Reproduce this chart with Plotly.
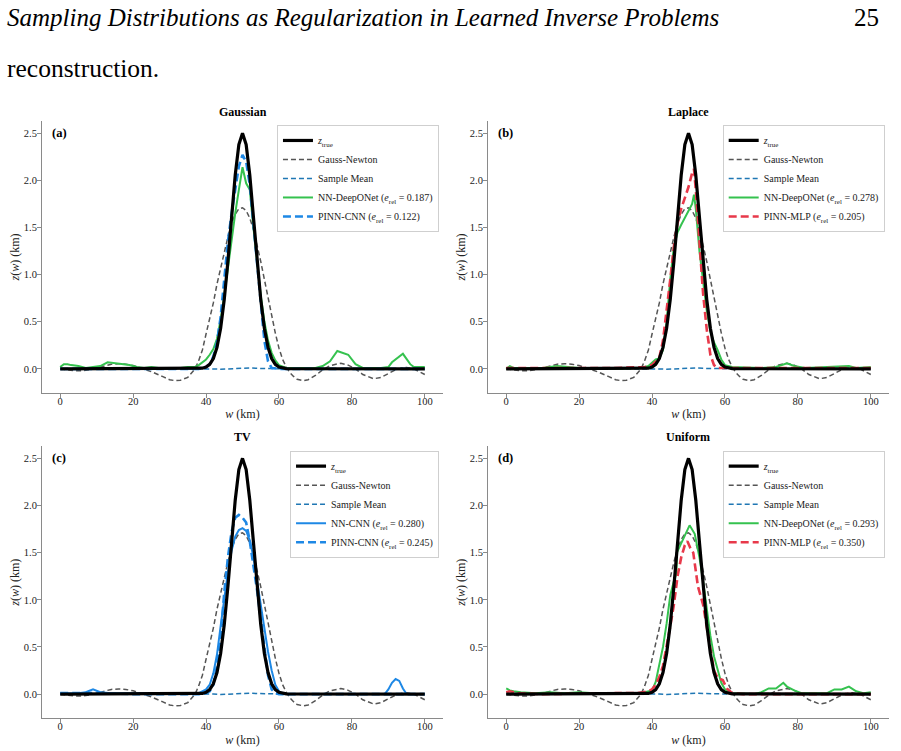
import plotly.graph_objects as go

# ---------------- data ----------------
W_TRUE = [0, 38, 39, 40, 41, 42, 43, 44, 45, 46, 47, 48, 49, 50, 51, 52, 53, 54, 55, 56, 57, 58, 59, 60, 61, 62, 100]
Z_TRUE = [0.0, 0.002, 0.007, 0.019, 0.048, 0.110, 0.228, 0.431, 0.738, 1.144, 1.611, 2.056, 2.381, 2.5,
          2.381, 2.056, 1.611, 1.144, 0.738, 0.431, 0.228, 0.110, 0.048, 0.019, 0.007, 0.002, 0.0]

W_GN = [0, 2, 4, 6, 8, 10, 12, 14, 16, 18, 20, 22, 25, 28, 30, 31.5, 33, 35, 36, 37, 38, 39, 40, 41, 42, 43, 44,
        45, 46, 47, 48, 49, 50, 51, 52, 53, 54, 55, 56, 57, 58, 59, 60, 61, 62, 63, 64, 65, 66.7, 68, 70, 72, 74,
        77, 79, 81, 83, 86, 88, 90, 92, 94, 95, 97, 99, 100]
Z_GN = [0.0, -0.01, -0.02, -0.02, -0.01, 0.01, 0.03, 0.05, 0.055, 0.05, 0.035, 0.01, -0.03, -0.08, -0.115, -0.125,
        -0.12, -0.09, -0.05, 0.0, 0.09, 0.2, 0.37, 0.52, 0.7, 0.9, 1.07, 1.25, 1.4, 1.54, 1.64, 1.7, 1.71, 1.68,
        1.6, 1.48, 1.32, 1.14, 0.95, 0.75, 0.56, 0.38, 0.22, 0.1, 0.02, -0.04, -0.08, -0.11, -0.125, -0.115, -0.07,
        -0.01, 0.035, 0.06, 0.04, 0.0, -0.06, -0.105, -0.09, -0.05, -0.01, 0.01, 0.015, 0.0, -0.04, -0.06]

W_SM = [0, 10, 20, 30, 38, 40, 42, 44, 46, 48, 50, 52, 54, 56, 58, 60, 62, 70, 80, 90, 100]
Z_SM = [0.0, 0.0, 0.0, 0.0, 0.0, 0.005, 0.0, -0.004, 0.0, 0.005, 0.008, 0.01, 0.006, 0.004, 0.002, 0.0, 0.0,
        0.0, 0.0, 0.0, 0.0]

# (a) Gaussian
W_A_NN = [0, 1, 2, 3, 5, 7, 9, 11, 13, 15, 17, 19, 21, 23, 25, 27, 30, 33, 35, 37, 38, 40, 41, 42, 43, 44, 45, 46,
          47, 48, 49, 50, 51, 52, 53, 54, 55, 56, 57, 58, 59, 60, 62, 65, 70, 72, 74, 76, 78, 79, 81, 83, 88, 90,
          91, 94, 96, 97, 100]
Z_A_NN = [0.02, 0.05, 0.05, 0.04, 0.03, 0.01, 0.02, 0.03, 0.07, 0.06, 0.05, 0.04, 0.02, 0.01, 0.02, 0.01, 0.01,
          0.01, 0.02, 0.02, 0.04, 0.1, 0.15, 0.21, 0.32, 0.52, 0.78, 1.08, 1.38, 1.65, 1.9, 2.14, 1.97, 1.9, 1.5,
          1.1, 0.78, 0.5, 0.3, 0.17, 0.09, 0.04, 0.01, 0.01, 0.01, 0.03, 0.08, 0.19, 0.16, 0.15, 0.05, 0.01, 0.01,
          0.02, 0.07, 0.16, 0.05, 0.02, 0.02]
W_A_PINN = [0, 10, 20, 30, 38, 40, 41, 42, 43, 44, 45, 46, 47, 48, 49, 50, 51, 52, 53, 54, 55, 56, 57, 58, 60, 70,
            80, 90, 100]
Z_A_PINN = [0.0, 0.0, 0.0, 0.0, 0.0, 0.02, 0.05, 0.13, 0.28, 0.55, 0.95, 1.35, 1.65, 1.88, 2.15, 2.27, 2.2, 1.95,
            1.55, 1.1, 0.68, 0.3, 0.08, 0.01, 0.0, 0.0, 0.0, 0.0, 0.0]

# (b) Laplace
W_B_NN = [0, 1, 2, 5, 10, 14, 17, 20, 30, 37, 39, 40, 41, 42, 43, 44, 45, 46, 47, 48, 49, 50, 51, 51.5, 52, 53, 54,
          55, 56, 57, 58, 59, 60, 62, 70, 74, 77, 79, 82, 90, 94, 96, 100]
Z_B_NN = [0.0, 0.03, 0.01, 0.01, 0.01, 0.03, 0.02, 0.01, 0.0, 0.01, 0.03, 0.07, 0.1, 0.11, 0.2, 0.5, 0.95, 1.3,
          1.45, 1.53, 1.6, 1.67, 1.75, 1.85, 1.7, 1.25, 0.9, 0.62, 0.4, 0.28, 0.2, 0.1, 0.04, 0.02, 0.01, 0.02,
          0.06, 0.03, 0.01, 0.02, 0.03, 0.01, 0.02]
W_B_PINN = [0, 10, 20, 30, 38, 40, 41, 42, 43, 44, 45, 46, 47, 48, 49, 50, 51, 51.5, 52, 53, 54, 55, 56, 57, 58, 60,
            70, 80, 90, 100]
Z_B_PINN = [0.01, 0.01, 0.01, 0.01, 0.02, 0.04, 0.08, 0.12, 0.3, 0.6, 0.95, 1.3, 1.55, 1.7, 1.82, 1.93, 2.08, 2.12,
            1.9, 1.3, 0.8, 0.42, 0.15, 0.04, 0.01, 0.01, 0.01, 0.01, 0.01, 0.01]

# (c) TV
W_C_NN = [0, 5, 7, 9, 11, 14, 20, 30, 37, 38, 40, 41, 42, 43, 44, 45, 46, 47, 48, 49, 50, 51, 52, 53, 54, 55, 56, 57,
          58, 59, 60, 61, 62, 80, 89, 90, 91, 92, 93, 94, 95, 100]
Z_C_NN = [0.01, 0.01, 0.02, 0.05, 0.02, 0.01, 0.01, 0.01, 0.01, 0.01, 0.05, 0.1, 0.22, 0.42, 0.72, 1.02, 1.3, 1.52,
          1.67, 1.74, 1.76, 1.73, 1.63, 1.45, 1.2, 0.95, 0.68, 0.45, 0.25, 0.1, 0.03, 0.0, 0.0, 0.0, 0.0, 0.05,
          0.12, 0.16, 0.14, 0.06, 0.0, 0.0]
W_C_PINN = [0, 10, 20, 30, 38, 40, 41, 42, 43, 44, 45, 46, 47, 48, 49, 50, 51, 52, 53, 54, 55, 56, 57, 58, 59, 60,
            70, 80, 90, 100]
Z_C_PINN = [0.01, 0.01, 0.0, 0.0, 0.0, 0.01, 0.03, 0.1, 0.3, 0.6, 1.08, 1.45, 1.72, 1.87, 1.9, 1.87, 1.82, 1.62,
            1.38, 1.1, 0.8, 0.5, 0.2, 0.05, 0.01, 0.0, 0.0, 0.0, 0.0, 0.0]

# (d) Uniform
W_D_NN = [0, 1, 2, 4, 8, 12, 16, 20, 24, 30, 36, 38, 40, 41, 42, 43, 44, 45, 46, 46.7, 46.8, 48, 49, 50.3, 51.7, 53,
          54, 55, 56, 57, 58, 59, 60, 62, 68, 70, 72, 74, 76, 77, 79, 81, 88, 90, 92, 94, 96, 98, 100]
Z_D_NN = [0.06, 0.04, 0.03, 0.02, 0.01, 0.02, 0.01, 0.02, 0.01, 0.01, 0.01, 0.02, 0.04, 0.13, 0.3, 0.5, 0.75, 1.05,
          1.2, 1.28, 1.5, 1.6, 1.7, 1.79, 1.7, 1.45, 1.2, 0.9, 0.62, 0.4, 0.25, 0.12, 0.05, 0.01, 0.0, 0.02, 0.06,
          0.06, 0.12, 0.08, 0.04, 0.01, 0.01, 0.05, 0.05, 0.08, 0.03, 0.01, 0.02]
W_D_PINN = [0, 1, 3, 10, 30, 36, 39, 40, 41, 42, 43, 44, 45, 46, 47, 48, 49, 49.7, 50.5, 51.3, 52, 52.6, 54, 55, 56,
            57, 58, 59.4, 60.5, 62, 65, 100]
Z_D_PINN = [0.02, 0.03, 0.01, 0.0, 0.01, 0.01, 0.03, 0.05, 0.1, 0.18, 0.3, 0.5, 0.72, 0.95, 1.25, 1.45, 1.58, 1.62,
            1.55, 1.5, 1.3, 1.14, 0.95, 0.7, 0.45, 0.25, 0.17, 0.15, 0.06, 0.01, 0.0, 0.0]

PANEL_TITLES = ["Gaussian", "Laplace", "TV", "Uniform"]
PANEL_TAGS = ["(a)", "(b)", "(c)", "(d)"]
NET_NAMES = [("NN-DeepONet", "0.187", "PINN-CNN", "0.122"),
             ("NN-DeepONet", "0.278", "PINN-MLP", "0.205"),
             ("NN-CNN", "0.280", "PINN-CNN", "0.245"),
             ("NN-DeepONet", "0.293", "PINN-MLP", "0.350")]
NET_DATA = [(W_A_NN, Z_A_NN, W_A_PINN, Z_A_PINN),
            (W_B_NN, Z_B_NN, W_B_PINN, Z_B_PINN),
            (W_C_NN, Z_C_NN, W_C_PINN, Z_C_PINN),
            (W_D_NN, Z_D_NN, W_D_PINN, Z_D_PINN)]
X_TICKS = [0, 20, 40, 60, 80, 100]
Y_TICKS = [0.0, 0.5, 1.0, 1.5, 2.0, 2.5]

# ---------------- styling ----------------
FONT = "'Times New Roman', 'Liberation Serif', 'DejaVu Serif', serif"
GREEN = "#35c24f"
BLUE = "#1e88e5"
RED = "#e8394a"
SM_BLUE = "#1f77b4"
GRAY = "#555555"
NN_STYLE = [dict(color=GREEN, width=2), dict(color=GREEN, width=2),
            dict(color=BLUE, width=2), dict(color=GREEN, width=2)]
PINN_STYLE = [dict(color=BLUE, width=2.6, dash="8px,4px"), dict(color=RED, width=2.6, dash="8px,4px"),
              dict(color=BLUE, width=2.6, dash="8px,4px"), dict(color=RED, width=2.6, dash="8px,4px")]

X_DOMAINS = [[0.0466, 0.4917], [0.5416, 0.9867]]
Y_DOMAINS = [[0.4767, 0.8389], [0.0436, 0.4061]]
LEGEND_POS = [(0.3074, 0.8336), (0.8021, 0.8336), (0.3219, 0.3999), (0.8021, 0.3999)]


def it(s, size=10):
    return f"<span style='font-style:italic;font-size:{size}px'>{s}</span>"


def sub(s, size=7):
    # lowered small text without plotly's <sub> (which adds zero-width reset spans)
    return f"<span style='font-size:{size}px;baseline-shift:-2.5px'>{s}</span>"


def plain(s, size=10):
    return f"<span style='font-size:{size}px'>{s}</span>"


fig = go.Figure()
layout = dict(
    width=901, height=751, margin=dict(l=0, r=0, t=0, b=0),
    paper_bgcolor="white", plot_bgcolor="white",
    font=dict(family=FONT, size=11, color="#222222"),
    annotations=[],
)

for i in range(4):
    r, c = divmod(i, 2)
    sfx = "" if i == 0 else str(i + 1)
    xa, ya = "x" + sfx, "y" + sfx
    leg = "legend" if i == 0 else "legend" + str(i + 1)
    nn_name, nn_e, pinn_name, pinn_e = NET_NAMES[i]
    wn, zn, wp, zp = NET_DATA[i]

    # drawn bottom-to-top; z_true last so it sits on top, legend order kept with legendrank
    traces = [
        (W_GN, Z_GN, "Gauss-Newton", dict(color=GRAY, width=1.5, dash="5px,3px"), 2),
        (W_SM, Z_SM, "Sample Mean", dict(color=SM_BLUE, width=1.5, dash="5px,3px"), 3),
        (wn, zn, plain(f"{nn_name} (") + it("e") + sub("rel") + plain(f" = {nn_e})"), NN_STYLE[i], 4),
        (wp, zp, plain(f"{pinn_name} (") + it("e") + sub("rel") + plain(f" = {pinn_e})"), PINN_STYLE[i], 5),
        (W_TRUE, Z_TRUE, it("z") + sub("true"), dict(color="black", width=3.2), 1),
    ]
    for wx, zy, name, line, rank in traces:
        fig.add_trace(go.Scatter(x=wx, y=zy, mode="lines", name=name, line=line, legendrank=rank,
                                 xaxis=xa, yaxis=ya, legend=leg, showlegend=True))

    axis_common = dict(showline=True, linecolor="#8a8a8a", linewidth=1, ticks="outside", ticklen=4,
                       tickwidth=1, tickcolor="#8a8a8a", showgrid=False, zeroline=False, automargin=False,
                       tickfont=dict(family=FONT, size=10.5, color="#222222"))
    layout["xaxis" + sfx] = dict(axis_common, domain=X_DOMAINS[c], anchor=ya, range=[-5, 105],
                                 tickvals=X_TICKS, ticklabelstandoff=-6,
                                 title=dict(text=it("w", 12) + plain(" (km)", 12), standoff=4,
                                            font=dict(family=FONT, size=12, color="#222222")))
    layout["yaxis" + sfx] = dict(axis_common, domain=Y_DOMAINS[r], anchor=xa, range=[-0.256, 2.631],
                                 tickvals=Y_TICKS, tickformat=".1f", ticklabelstandoff=-2,
                                 title=dict(text=it("z", 12) + plain("(", 12) + it("w", 12) + plain(") (km)", 12),
                                            standoff=1, font=dict(family=FONT, size=12, color="#222222")))
    lx, ly = LEGEND_POS[i]
    layout[leg] = dict(x=lx, y=ly, xanchor="left", yanchor="top", bgcolor="rgba(255,255,255,0.85)",
                       bordercolor="#cfcfcf", borderwidth=1, itemwidth=30, tracegroupgap=0,
                       font=dict(family=FONT, size=10, color="#222222"))
    layout["annotations"].append(dict(text="<b>" + PANEL_TITLES[i] + "</b>", xref=xa + " domain",
                                      yref=ya + " domain", x=0.5, y=1.0, xanchor="center", yanchor="bottom",
                                      showarrow=False, font=dict(family=FONT, size=12, color="black")))
    layout["annotations"].append(dict(text="<b>" + PANEL_TAGS[i] + "</b>", xref=xa + " domain",
                                      yref=ya + " domain", x=0.02, y=0.955, xanchor="left", yanchor="middle",
                                      showarrow=False, font=dict(family=FONT, size=12.5, color="black")))

layout["annotations"] += [
    dict(text="Sampling Distributions as Regularization in Learned Inverse Problems", xref="paper",
         yref="paper", x=5 / 901, y=1 - 17 / 751, xanchor="left", yanchor="middle", showarrow=False,
         font=dict(family=FONT, size=25, color="black", style="italic")),
    dict(text="25", xref="paper", yref="paper", x=881 / 901, y=1 - 17 / 751, xanchor="right", yanchor="middle",
         showarrow=False, font=dict(family=FONT, size=25, color="black")),
    dict(text="reconstruction.", xref="paper", yref="paper", x=5 / 901, y=1 - 68 / 751, xanchor="left",
         yanchor="middle", showarrow=False, font=dict(family=FONT, size=25.5, color="black")),
]

fig.update_layout(layout)
fig.write_html("out.html")
